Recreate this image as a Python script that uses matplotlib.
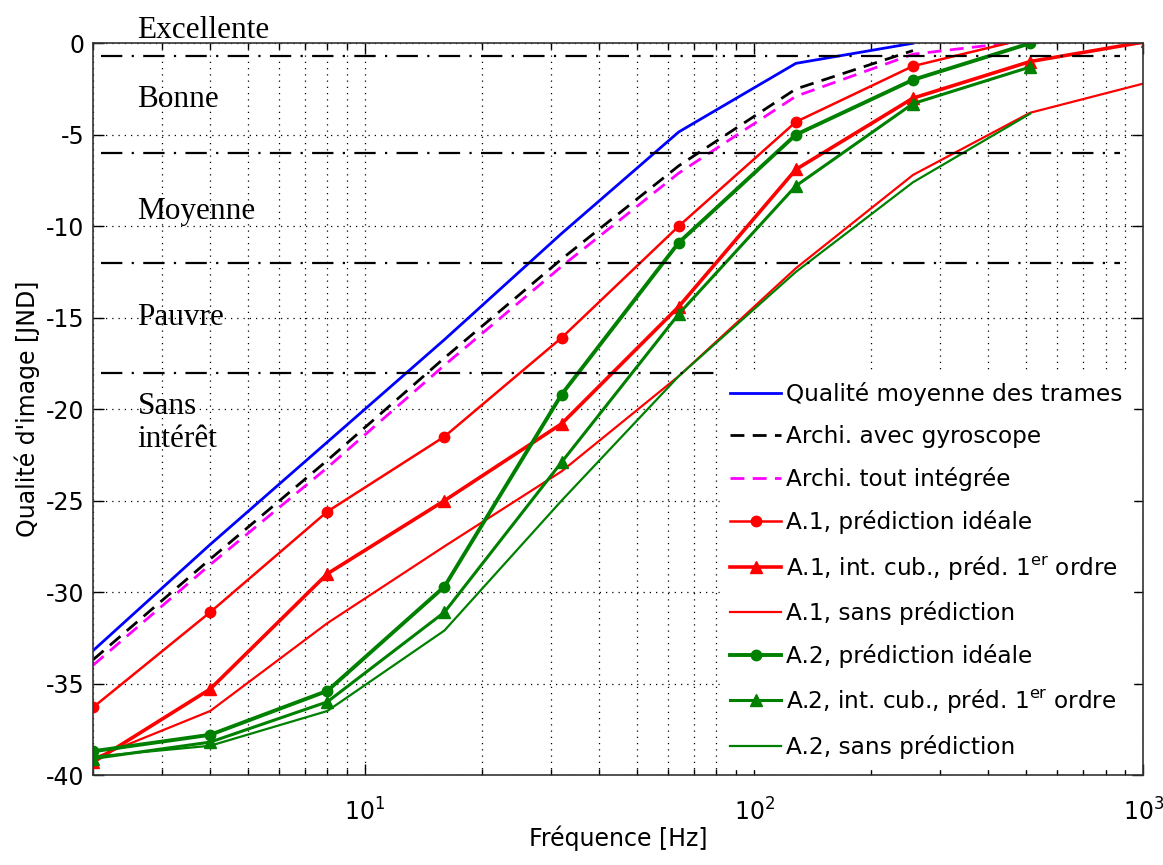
import numpy as np
import matplotlib
matplotlib.use("Agg")
import matplotlib.pyplot as plt

plt.rcParams['font.family'] = 'DejaVu Sans'
plt.rcParams['mathtext.fontset'] = 'custom'
plt.rcParams['mathtext.rm'] = 'DejaVu Sans'
plt.rcParams['axes.unicode_minus'] = False

# frequencies (Hz)
freq = [2, 4, 8, 16, 32, 64, 128, 256, 512]
freq_ext = [2, 4, 8, 16, 32, 64, 128, 256, 512, 1024]

# image quality [JND]
q_frames = [-33.2, -27.4, -21.8, -16.2, -10.4, -4.85, -1.1, 0.0]
q_gyro = [-33.7, -28.2, -22.8, -17.2, -11.8, -6.7, -2.5, -0.4]
q_integ = [-34.0, -28.5, -23.2, -17.6, -12.2, -7.1, -2.9, -0.6, 0.15]
a1_ideal = [-36.3, -31.1, -25.6, -21.5, -16.1, -10.0, -4.3, -1.25, 0.3]
a1_cub = [-39.3, -35.3, -29.0, -25.0, -20.8, -14.4, -6.9, -3.0, -1.0, 0.1]
a1_none = [-39.1, -36.5, -31.7, -27.5, -23.4, -18.2, -12.3, -7.2, -3.8, -2.15]
a2_ideal = [-38.7, -37.8, -35.4, -29.7, -19.2, -10.9, -5.0, -2.0, 0.0]
a2_cub = [-39.1, -38.2, -36.0, -31.1, -22.9, -14.8, -7.8, -3.3, -1.3]
a2_none = [-39.0, -38.4, -36.5, -32.1, -25.0, -18.2, -12.5, -7.6, -3.85]

# quality category limits and labels
cat_limits = [-0.7, -6, -12, -18]
cat_names = ['Excellente', 'Bonne', 'Moyenne', 'Pauvre', 'Sans\nintérêt']
cat_text_y = [0.27, -3.5, -9.6, -15.4, -22.06]

green = '#008000'

fig = plt.figure(figsize=(11.63, 8.65), dpi=100)
ax = fig.add_axes([0.080, 0.104, 0.903, 0.846])

ax.plot(freq[:8], q_frames, color='blue', lw=2.0, label='Qualité moyenne des trames')
ax.plot(freq[:8], q_gyro, color='black', lw=2.0, linestyle=(0, (5, 3)),
        label='Archi. avec gyroscope')
ax.plot(freq, q_integ, color='magenta', lw=2.0, linestyle=(0, (5, 3)),
        label='Archi. tout intégrée')
ax.plot(freq, a1_ideal, color='red', lw=1.8, marker='o', ms=7.5,
        label='A.1, prédiction idéale')
ax.plot(freq_ext, a1_cub, color='red', lw=2.6, marker='^', ms=8.5,
        label=r'A.1, int. cub., préd. 1$^{\mathrm{er}}$ ordre')
ax.plot(freq_ext, a1_none, color='red', lw=1.6, label='A.1, sans prédiction')
ax.plot(freq, a2_ideal, color=green, lw=2.8, marker='o', ms=7.5,
        label='A.2, prédiction idéale')
ax.plot(freq, a2_cub, color=green, lw=2.2, marker='^', ms=8.5,
        label=r'A.2, int. cub., préd. 1$^{\mathrm{er}}$ ordre')
ax.plot(freq, a2_none, color=green, lw=1.6, label='A.2, sans prédiction')

for lim in cat_limits:
    ax.plot([2.1, 870], [lim, lim], color='black', lw=1.6,
            linestyle=(0, (9.6, 4.2, 1, 4.2)))

for name, ty in zip(cat_names, cat_text_y):
    ax.text(2.6, ty, name, family='Liberation Serif', fontsize=22.5,
            ha='left', va='baseline', linespacing=1.17, clip_on=False)

ax.set_xscale('log')
ax.set_xlim(2, 1000)
ax.set_ylim(-40, 0)
ax.set_yticks(np.arange(-40, 1, 5))
ax.set_xticks([10, 100, 1000])
ax.set_xticklabels([r'$\mathdefault{10^{1}}$', r'$\mathdefault{10^{2}}$',
                    r'$\mathdefault{10^{3}}$'])

ax.grid(True, which='major', axis='y', color='black', lw=0.9, linestyle=(0, (1, 4)))
ax.grid(True, which='both', axis='x', color='black', lw=0.9, linestyle=(0, (1, 4)))
ax.set_axisbelow(True)

ax.tick_params(which='both', direction='in', top=True, right=True)
ax.tick_params(which='major', length=8, width=1, labelsize=17)
ax.tick_params(which='minor', length=4, width=1)
ax.tick_params(axis='x', which='major', pad=17)
ax.tick_params(axis='y', which='major', pad=6)
for sp in ax.spines.values():
    sp.set_color('#333333')
    sp.set_linewidth(1.2)

ax.set_xlabel('Fréquence [Hz]', fontsize=17, labelpad=0)
ax.set_ylabel("Qualité d'image [JND]", fontsize=17, labelpad=4)

leg = ax.legend(loc='lower right', bbox_to_anchor=(0.99, 0.008), borderaxespad=0,
                fontsize=16.7, frameon=True, fancybox=False, framealpha=1,
                edgecolor='white', facecolor='white', handlelength=2.2,
                handletextpad=0.2, labelspacing=0.83, borderpad=0.45)

fig.savefig('out.png', dpi=100)
